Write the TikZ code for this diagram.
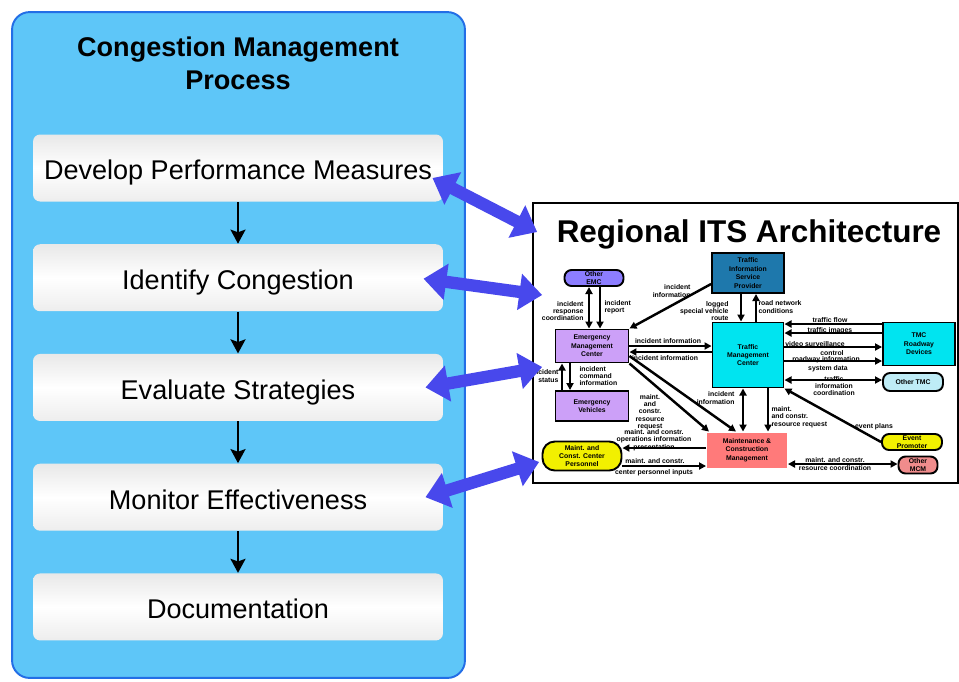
\documentclass[tikz,border=0pt]{standalone}
\usepackage{fontspec}
\setmainfont{Liberation Sans}
\usepackage{tikz}
\usetikzlibrary{shapes.geometric, arrows.meta, positioning, calc}

\definecolor{panelblue}{RGB}{94,198,248}
\definecolor{paneledge}{RGB}{35,110,230}
\definecolor{linkblue}{RGB}{72,72,236}
\definecolor{emclav}{RGB}{204,160,248}
\definecolor{oemcblue}{RGB}{140,125,255}
\definecolor{tispteal}{RGB}{30,120,172}
\definecolor{tmccyan}{RGB}{0,228,240}
\definecolor{otmccyan}{RGB}{190,236,246}
\definecolor{mcmred}{RGB}{255,122,122}
\definecolor{omcmred}{RGB}{240,140,140}
\definecolor{pyellow}{RGB}{242,240,0}

\newcommand{\archfont}{\fontsize{3.9}{4.8}\selectfont\bfseries}
\newcommand{\lblfont}{\fontsize{3.9}{4.2}\selectfont\bfseries}

\tikzset{
  panel/.style={
    rectangle,
    rounded corners=10pt,
    draw=paneledge,
    line width=1.1pt,
    fill=panelblue
    },
  cmptitle/.style={
    align=center,
    font=\fontsize{15.4}{18.7}\selectfont\bfseries
    },
  stepbox/.style={
    rectangle,
    rounded corners=4pt,
    minimum width=8.2cm,
    minimum height=1.34cm,
    text height=13.5pt,
    text depth=0pt,
    align=center,
    top color=gray!18,
    bottom color=gray!14,
    middle color=white,
    font=\fontsize{15.4}{18}\selectfont
    },
  steparrow/.style={line width=1.4pt, -{Stealth[length=8pt,width=8.5pt,inset=1.5pt]}},
  itstitle/.style={
    font=\fontsize{17.9}{20}\selectfont\bfseries
    },
  archbox/.style={
    rectangle,
    draw=black,
    line width=1.1pt,
    align=center,
    inner sep=0pt,
    font=\archfont
    },
  pill/.style={
    archbox,
    rounded corners=4pt
    },
  flow/.style={line width=1.4pt, -{Triangle[length=4pt,width=4pt]}},
  biflow/.style={line width=1.4pt, {Triangle[length=4pt,width=4pt]}-{Triangle[length=4pt,width=4pt]}},
  lbl/.style={font=\lblfont, inner sep=0pt, align=center},
  linkarrow/.style={
    draw=linkblue,
    line width=7pt,
    {Triangle[length=13pt,width=20pt]}-{Triangle[length=13pt,width=20pt]}
    },
}

\begin{document}
\begin{tikzpicture}[
            x = 0.02cm, y = -0.02cm, % one unit per pixel of the sketch
            node distance = 2.195cm, % distance between the steps
            semithick % line style
        ]
  \useasboundingbox (0,0) rectangle (959,681);

  % the process on the left
  \node[panel, minimum width=9.06cm, minimum height=13.32cm] (cmp) at (238.5,345) {};
  \node[cmptitle] (cmpt) at (238,63) {Congestion Management\\Process};
  \node[stepbox] (m1) at (238,168) {Develop Performance Measures};
  \node[stepbox] (m2) [below of=m1] {Identify Congestion};
  \node[stepbox] (m3) [below of=m2] {Evaluate Strategies};
  \node[stepbox] (m4) [below of=m3] {Monitor Effectiveness};
  \node[stepbox] (m5) [below of=m4] {Documentation};

  \draw[steparrow] (m1) -- (m2);
  \draw[steparrow] (m2) -- (m3);
  \draw[steparrow] (m3) -- (m4);
  \draw[steparrow] (m4) -- (m5);

  % the architecture on the right
  \node[draw, line width=1pt, fill=white, minimum width=8.5cm, minimum height=5.6cm, inner sep=0pt] (its) at (745.5,343) {};
  \node[itstitle] (itst) at (749,234) {Regional ITS Architecture};

  \node[pill, fill=oemcblue, minimum width=1.18cm, minimum height=0.32cm] (oemc) at (594,278) {Other\\EMC};
  \node[archbox, fill=tispteal, minimum width=1.44cm, minimum height=0.8cm] (tisp) at (748,273) {Traffic\\Information\\Service\\Provider};
  \node[archbox, fill=emclav, minimum width=1.46cm, minimum height=0.66cm] (emc) at (592,346) {Emergency\\Management\\Center};
  \node[archbox, fill=tmccyan, minimum width=1.42cm, minimum height=1.3cm] (tmc) at (748,355) {Traffic\\Management\\Center};
  \node[archbox, fill=tmccyan, minimum width=1.44cm, minimum height=0.86cm] (trd) at (919,344) {TMC\\Roadway\\Devices};
  \node[pill, fill=otmccyan, minimum width=1.2cm, minimum height=0.36cm] (otmc) at (913,382) {Other TMC};
  \node[archbox, fill=emclav, minimum width=1.46cm, minimum height=0.6cm] (ev) at (592,406) {Emergency\\Vehicles};
  \node[pill, fill=pyellow, minimum width=1.58cm, minimum height=0.58cm, rounded corners=7pt] (mccp) at (582,456) {Maint. and\\Const. Center\\Personnel};
  \node[archbox, draw=none, fill=mcmred, minimum width=1.6cm, minimum height=0.7cm] (mcm) at (747,450) {Maintenance \&\\Construction\\Management};
  \node[pill, fill=pyellow, minimum width=1.2cm, minimum height=0.32cm] (evp) at (912,442) {Event\\Promoter};
  \node[pill, fill=omcmred, minimum width=0.78cm, minimum height=0.34cm] (omcm) at (918,465) {Other\\MCM};

  \draw[biflow] (589,0 |- oemc.south) -- (589,0 |- emc.north);
  \draw[flow] (600,0 |- oemc.south) -- (600,0 |- emc.north);
  \draw[flow] ($(tisp.west)+(0,11)$) -- (emc.north east);
  \draw[flow] (741,0 |- tisp.south) -- (741,0 |- tmc.north);
  \draw[flow] (756,0 |- tmc.north) -- (756,0 |- tisp.south);
  \draw[flow] (emc.east |- 0,346) -- (tmc.west |- 0,346);
  \draw[flow] (tmc.west |- 0,352) -- (emc.east |- 0,352);
  \draw[flow] (emc.south east) -- (709,0 |- mcm.north);
  \draw[flow] ($(emc.east)+(0,10)$) -- (736,0 |- mcm.north);
  \draw[biflow] (743,0 |- tmc.south) -- (743,0 |- mcm.north);
  \draw[flow] (768,0 |- tmc.south) -- (768,0 |- mcm.north);
  \draw[flow] (trd.west |- 0,324) -- (tmc.east |- 0,324);
  \draw[flow] (trd.west |- 0,333) -- (tmc.east |- 0,333);
  \draw[flow] (tmc.east |- 0,347) -- (trd.west |- 0,347);
  \draw[flow] (tmc.east |- 0,361) -- (trd.west |- 0,361);
  \draw[biflow] (tmc.east |- 0,380) -- (otmc.west |- 0,380);
  \draw[flow] (evp.west) -- (tmc.south east);
  \draw[biflow] (mcm.east |- 0,464) -- (omcm.west |- 0,464);
  \draw[flow] (mcm.west |- 0,448) -- (mccp.east |- 0,448);
  \draw[flow] (mccp.east |- 0,466) -- (mcm.west |- 0,466);
  \draw[flow] (562,0 |- ev.north) -- (562,0 |- emc.south);
  \draw[flow] (570,0 |- emc.south) -- (570,0 |- ev.north);

  % flow labels
  \node[lbl, anchor=east, align=right] (lirc) at (584,311) {incident\\response\\coordination};
  \node[lbl, anchor=west, align=left] (lir) at (604,307) {incident\\report};
  \node[lbl, anchor=east, align=right] (lii) at (691,291) {incident\\information};
  \node[lbl, anchor=east, align=right] (llvr) at (729,311) {logged\\special vehicle\\route};
  \node[lbl, anchor=west, align=left] (lrnc) at (758,307) {road network\\conditions};
  \node[lbl] (lei1) at (668,341) {incident information};
  \node[lbl] (lei2) at (665,358) {incident information};
  \node[lbl, anchor=east, align=right] (lis) at (559,376) {incident\\status};
  \node[lbl, anchor=west, align=left] (lici) at (579,376) {incident\\command\\information};
  \node[lbl] (lmrr) at (650,412) {maint.\\and\\constr.\\resource\\request};
  \node[lbl] (lmoi) at (654,440) {maint. and constr.\\operations information\\presentation};
  \node[lbl] (lmc) at (655,461) {maint. and constr.};
  \node[lbl] (lcpi) at (654,473) {center personnel inputs};
  \node[lbl, anchor=east, align=right] (ltmi) at (735,398) {incident\\information};
  \node[lbl, anchor=west, align=left] (ltrr) at (771,417) {maint.\\and constr.\\resource request};
  \node[lbl] (ltf) at (830,320) {traffic flow};
  \node[lbl] (ltim) at (830,331) {traffic images};
  \node[lbl] (lvs) at (815,344) {video surveillance};
  \node[lbl] (lctl) at (832,353) {control};
  \node[lbl] (lri) at (826,360) {roadway information};
  \node[lbl] (lsd) at (828,369) {system data};
  \node[lbl] (ltic) at (834,386) {traffic\\information\\coordination};
  \node[lbl] (lep) at (874,427) {event plans};
  \node[lbl] (lmrc) at (835,464) {maint. and constr.\\resource coordination};

  % links between the two
  \draw[linkarrow] ($(m1.east)+(-11,10)$) -- ($(its.west |- 0,232)+(5,0)$);
  \draw[linkarrow] ($(m2.east)+(-20,1)$) -- ($(its.west |- 0,295)+(10,0)$);
  \draw[linkarrow] ($(m3.east)+(-18,0)$) -- ($(its.west |- 0,367)+(10,0)$);
  \draw[linkarrow] ($(m4.east)+(-18,0)$) -- ($(its.west |- 0,462)+(7,0)$);
\end{tikzpicture}
\end{document}
